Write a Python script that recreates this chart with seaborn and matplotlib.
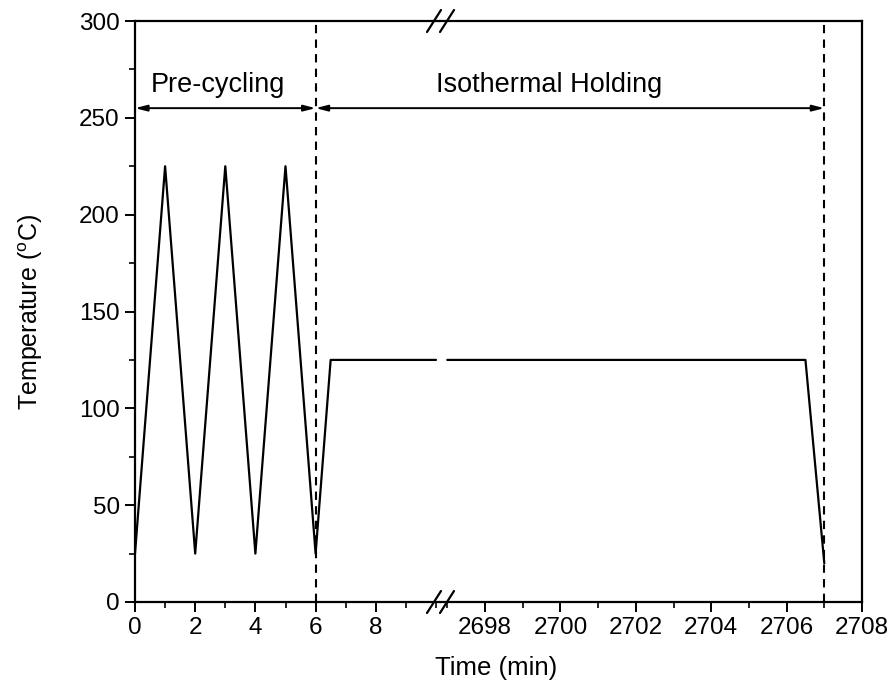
import matplotlib
matplotlib.use("Agg")
import matplotlib.pyplot as plt
import matplotlib.lines as mlines
import seaborn as sns
import pandas as pd
from matplotlib.ticker import MultipleLocator

# Thermal profile: pre-cycling segment and end of isothermal holding
pre_time = [0, 1, 2, 3, 4, 5, 6, 6.5, 10]
pre_temp = [25, 225, 25, 225, 25, 225, 25, 125, 125]
hold_time = [2697, 2706.5, 2707]
hold_temp = [125, 125, 20]

left_ticks = [0, 2, 4, 6, 8]
right_ticks = [2698, 2700, 2702, 2704, 2706, 2708]
y_ticks = [0, 50, 100, 150, 200, 250, 300]

stage_bounds = [0, 6, 2707]
arrow_level = 255
stage_labels = ["Pre-cycling", "Isothermal Holding"]

sns.set_style("ticks")
plt.rcParams["font.family"] = ["Liberation Sans", "DejaVu Sans"]
plt.rcParams["mathtext.fontset"] = "custom"
plt.rcParams["mathtext.rm"] = "Liberation Sans"
plt.rcParams["text.color"] = "black"

fig = plt.figure(figsize=(8.95, 6.94), dpi=100)
ax1 = fig.add_axes([135 / 895, 92 / 694, 305 / 895, 581 / 694])
ax2 = fig.add_axes([440 / 895, 92 / 694, 422 / 895, 581 / 694], sharey=ax1)

df_pre = pd.DataFrame({"time": pre_time, "temp": pre_temp})
df_hold = pd.DataFrame({"time": hold_time, "temp": hold_temp})
sns.lineplot(data=df_pre, x="time", y="temp", ax=ax1, color="black", lw=1.6, sort=False)
sns.lineplot(data=df_hold, x="time", y="temp", ax=ax2, color="black", lw=1.6, sort=False)

ax1.set_xlim(0, 305 / 30.1)
ax2.set_xlim(2708 - 422 / 37.7, 2708)
ax1.set_ylim(0, 300)

for ax in (ax1, ax2):
    for s in ax.spines.values():
        s.set_linewidth(1.6)
        s.set_color("black")
    ax.set_xlabel("")
    ax.set_ylabel("")
    ax.xaxis.set_minor_locator(MultipleLocator(1))
    ax.tick_params(axis="both", which="major", direction="out", length=7, width=1.4,
                   labelsize=17.5, colors="black", top=False, right=False, pad=4)
    ax.tick_params(axis="both", which="minor", direction="out", length=4, width=1.2,
                   colors="black", top=False, right=False)

ax1.spines["right"].set_visible(False)
ax2.spines["left"].set_visible(False)
ax2.tick_params(axis="y", which="both", left=False, labelleft=False)

ax1.set_xticks(left_ticks)
ax2.set_xticks(right_ticks)
ax1.set_yticks(y_ticks)
ax1.yaxis.set_minor_locator(MultipleLocator(25))

# Stage boundaries
ax1.axvline(stage_bounds[1], color="black", lw=1.5, ls=(0, (4, 3)))
ax2.axvline(stage_bounds[2], color="black", lw=1.5, ls=(0, (4, 3)))

# Stage arrows
arrow_kw = dict(arrowstyle="<|-|>,head_length=0.7,head_width=0.18", color="black",
                lw=1.4, shrinkA=0, shrinkB=0)
ax1.annotate("", xy=(stage_bounds[1], arrow_level), xytext=(stage_bounds[0], arrow_level),
             arrowprops=arrow_kw)
ax2.annotate("", xy=(stage_bounds[2], arrow_level), xycoords=ax2.transData,
             xytext=(stage_bounds[1], arrow_level), textcoords=ax1.transData,
             arrowprops=arrow_kw, annotation_clip=False)

ax1.text(2.75, 267, stage_labels[0], ha="center", va="center", fontsize=19.5)
ax2.text(2699.7, 267, stage_labels[1], ha="center", va="center", fontsize=19.5)

# Axis break marks
for yb in (21, 602):
    for xc in (434, 447):
        fy = 1 - yb / 694
        fig.add_artist(mlines.Line2D([(xc - 7) / 895, (xc + 7) / 895],
                                     [fy - 11 / 694, fy + 11 / 694],
                                     color="black", lw=1.6))

fig.text(496 / 895, 1 - 668 / 694, "Time (min)", ha="center", va="center", fontsize=18.5)
fig.text(31 / 895, 1 - 312 / 694, r"Temperature ($^{\mathrm{o}}$C)", ha="center",
         va="center", rotation=90, fontsize=18)

fig.savefig("out.png", dpi=100)
